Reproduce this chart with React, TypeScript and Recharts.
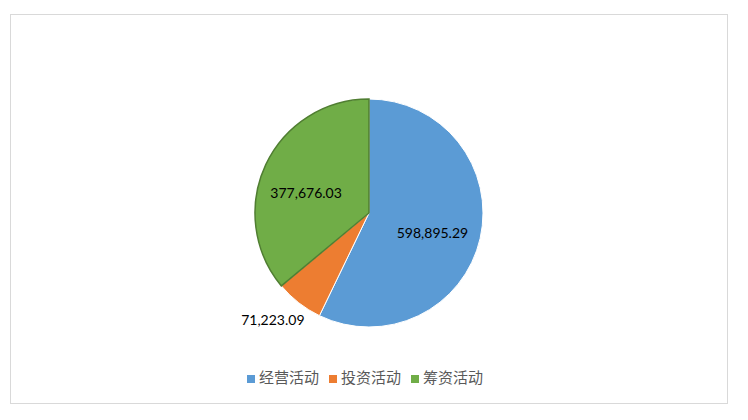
import React from 'react'
import { Cell, Legend, Pie, PieChart } from 'recharts'

const categories = ['经营活动', '投资活动', '筹资活动']
const amounts = [598895.29, 71223.09, 377676.03]

const colors = ['#5b9bd5', '#ed7d31', '#70ad47']
const strokes = ['#ffffff', '#ffffff', '#507e32']
// inside labels for the big slices, outside for the thin one
const labelRadius = [0.58, 1.27, 0.59]
const labelNudge = [
   [-1, 5],
   [-7, -8],
   [-2, 8],
]

const data = categories.map((name, i) => ({ name, value: amounts[i] }))

const fmt = (v: number) =>
   v.toLocaleString('en-US', { minimumFractionDigits: 2, maximumFractionDigits: 2 })

const RAD = Math.PI / 180

function renderLabel(props: any) {
   const { cx, cy, midAngle, outerRadius, index, value } = props
   const r = outerRadius * labelRadius[index]
   const x = cx + r * Math.cos(-midAngle * RAD) + labelNudge[index][0]
   const y = cy + r * Math.sin(-midAngle * RAD) + labelNudge[index][1]
   return (
      <text
         x={x}
         y={y}
         textAnchor="middle"
         dominantBaseline="central"
         fill="#000000"
         fontSize={14}
         fontFamily="Lato, 'Noto Sans', sans-serif"
      >
         {fmt(value)}
      </text>
   )
}

export default function App() {
   return (
      <div
         style={{
            position: 'absolute',
            left: 0,
            top: 0,
            width: 748,
            height: 420,
            background: '#ffffff',
         }}
      >
         <div
            style={{
               position: 'absolute',
               left: 10,
               top: 14,
               width: 716,
               height: 388,
               border: '1px solid #d9d9d9',
            }}
         />
         <PieChart width={748} height={420} margin={{ top: 0, right: 0, bottom: 0, left: 0 }}>
            <Pie
               data={data}
               dataKey="value"
               nameKey="name"
               cx={369}
               cy={213}
               outerRadius={114}
               startAngle={90}
               endAngle={-270}
               label={renderLabel}
               labelLine={false}
               isAnimationActive={false}
            >
               {data.map((d, i) => (
                  <Cell key={d.name} fill={colors[i]} stroke={strokes[i]} strokeWidth={i === 2 ? 1.5 : 1} />
               ))}
            </Pie>
            <Legend
               layout="horizontal"
               align="center"
               verticalAlign="bottom"
               iconType="square"
               iconSize={8}
               itemSorter={null}
               wrapperStyle={{
                  top: 367,
                  bottom: 'auto',
                  left: -4,
                  width: 748,
                  fontSize: 15,
                  fontFamily: "'Noto Sans CJK SC', sans-serif",
                  lineHeight: '20px',
               }}
               formatter={(value: string) => <span style={{ color: '#595959' }}>{value}</span>}
            />
         </PieChart>
      </div>
   )
}
